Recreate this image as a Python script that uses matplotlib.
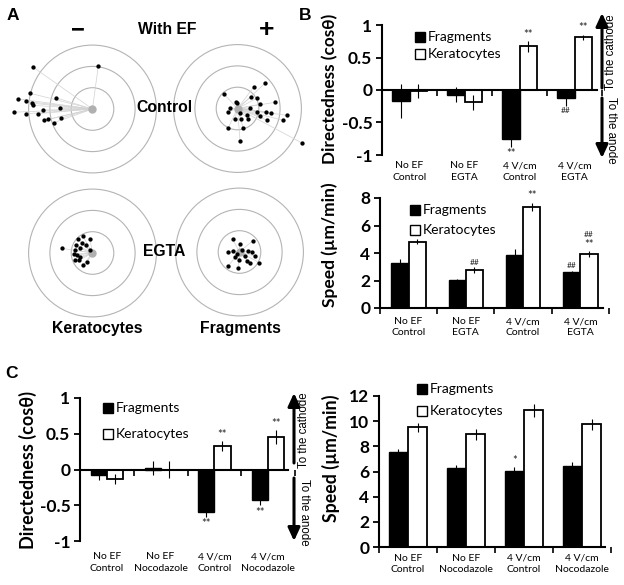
import matplotlib.pyplot as plt
from matplotlib.patches import Circle, Rectangle, FancyArrowPatch
import numpy as np

W, H = 624, 585

# ---- panel A: end points of tracks (units: inner ring radius = 1) ----
ctrl_ker_x = [-2.78, 0.27, -2.93, -3.51, -3.14, -2.85, -2.81, -1.73, -1.53, -2.34,
              -3.69, -3.12, -2.57, -2.26, -2.07, -1.49, -1.81]
ctrl_ker_y = [1.96, 2.02, 0.74, 0.48, 0.36, 0.27, 0.17, 0.53, 0.03, -0.05,
              -0.15, -0.22, -0.22, -0.53, -0.48, -0.44, -0.64]
ctrl_frag_x = [1.29, 0.77, -0.62, -0.07, 0.62, 0.90, 1.76, 1.06, -0.35, 0.59, -0.43,
               0.12, 0.90, 1.34, 1.57, 2.31, 0.46, 1.06, -0.12, 0.16, 0.51, 1.37,
               2.12, -0.43, 0.27, 0.12, 3.01, -0.04]
ctrl_frag_y = [1.18, 1.02, 0.67, 0.32, 0.53, 0.48, 0.29, 0.20, 0.01, 0.01, -0.15,
               -0.23, -0.15, -0.15, -0.23, -0.32, -0.31, -0.35, -0.49, -0.51, -0.51,
               -0.54, -0.55, -0.90, -0.93, -1.51, -1.61, 0.24]
egta_ker_x = [-1.45, -0.46, -0.67, -0.12, -0.77, -0.51, -0.31, -0.82, -0.59, -0.87,
              -0.59, -0.82, -0.62, -0.24, -0.43, -0.12, -0.71]
egta_ker_y = [0.22, 0.80, 0.64, 0.64, 0.38, 0.45, 0.38, 0.14, 0.22, -0.05,
              -0.17, -0.33, -0.33, -0.41, -0.56, 0.14, -0.09]
egta_frag_x = [-0.32, 0.02, 0.62, -0.53, -0.32, 0.10, 0.41, 0.57, -0.13, 0.26, 0.73,
               -0.01, 0.37, 0.93, -0.53, -0.06, 0.49, -0.21]
egta_frag_y = [0.60, 0.38, 0.53, 0.01, 0.06, 0.09, 0.06, 0.01, -0.09, -0.19, -0.19,
               -0.38, -0.42, -0.50, -0.66, -0.77, -0.53, -0.22]

# ---- panels B and C: bar data ----
groups_B = ['No EF\nControl', 'No EF\nEGTA', '4 V/cm\nControl', '4 V/cm\nEGTA']
groups_C = ['No EF\nControl', 'No EF\nNocodazole', '4 V/cm\nControl', '4 V/cm\nNocodazole']
series = ['Fragments', 'Keratocytes']

dirB_frag = [-0.17, -0.07, -0.76, -0.12]
dirB_frag_err = [0.26, 0.12, 0.11, 0.12]
dirB_ker = [-0.01, -0.19, 0.67, 0.81]
dirB_ker_err = [0.11, 0.12, 0.08, 0.04]
dirB_frag_sig = ['', '', '**', '##']
dirB_ker_sig = ['', '', '**', '**']

spdB_frag = [3.3, 2.04, 3.87, 2.6]
spdB_frag_err = [0.3, 0.1, 0.45, 0.12]
spdB_ker = [4.82, 2.76, 7.37, 3.9]
spdB_ker_err = [0.2, 0.2, 0.28, 0.22]
spdB_frag_sig = ['', '', '', '##']
spdB_ker_sig = ['', '##', '**', '##\n**']

dirC_frag = [-0.07, 0.02, -0.59, -0.42]
dirC_frag_err = [0.07, 0.1, 0.07, 0.08]
dirC_ker = [-0.13, 0.0, 0.33, 0.45]
dirC_ker_err = [0.07, 0.12, 0.07, 0.1]
dirC_frag_sig = ['', '', '**', '**']
dirC_ker_sig = ['', '', '**', '**']

spdC_frag = [7.55, 6.25, 6.05, 6.45]
spdC_frag_err = [0.2, 0.25, 0.3, 0.3]
spdC_ker = [9.5, 8.95, 10.85, 9.75]
spdC_ker_err = [0.35, 0.45, 0.5, 0.45]
spdC_frag_sig = ['', '', '*', '']
spdC_ker_sig = ['', '', '', '']

CHART_FONT = ['Lato', 'DejaVu Sans']
ARIAL = ['Liberation Sans', 'DejaVu Sans']

fig = plt.figure(figsize=(W / 100, H / 100), dpi=100)


def fx(x):
    return x / W


def fy(y):
    return 1 - y / H


def px_rect(x0, y0, x1, y1):
    return [fx(x0), fy(y1), (x1 - x0) / W, (y1 - y0) / H]


def ftext(x, y, s, **kw):
    fig.text(fx(x), fy(y), s, ha='center', va='center', **kw)


# ---------------- panel A ----------------
UNIT = 21.3  # px per ring


def track_plot(cx, cy, xs, ys):
    half = 4.2 * UNIT
    ax = fig.add_axes(px_rect(cx - half, cy - half, cx + half, cy + half))
    ax.set_xlim(-4.2, 4.2)
    ax.set_ylim(-4.2, 4.2)
    ax.axis('off')
    ax.patch.set_alpha(0)
    for r in (1, 2, 3):
        ax.add_patch(Circle((0, 0), r, fill=False, ec='#b4b4b4', lw=0.8))
    for x, y in zip(xs, ys):
        ax.plot([0, x], [0, y], color='#d2d2d2', lw=0.5, zorder=2)
    ax.plot(0, 0, 'o', color='#b0b0b0', ms=6, mew=0, zorder=2)
    ax.plot(xs, ys, 'o', color='black', ms=3.1, mew=0, zorder=3)


track_plot(92.5, 109, ctrl_ker_x, ctrl_ker_y)
track_plot(237.5, 108.5, ctrl_frag_x, ctrl_frag_y)
track_plot(92.5, 253, egta_ker_x, egta_ker_y)
track_plot(239.5, 252, egta_frag_x, egta_frag_y)

ftext(13, 15, 'A', family=ARIAL, weight='bold', size=12.5)
ftext(305, 15, 'B', family=ARIAL, weight='bold', size=12.5)
ftext(12, 373, 'C', family=ARIAL, weight='bold', size=12.5)
ftext(78, 30, '\u2212', family=ARIAL, weight='bold', size=17)
ftext(267, 30, '+', family=ARIAL, weight='bold', size=19)
ftext(167, 30, 'With EF', family=ARIAL, weight='bold', size=11.3)
ftext(164, 107, 'Control', family=ARIAL, weight='bold', size=11.3)
ftext(164, 251, 'EGTA', family=ARIAL, weight='bold', size=11.3)
ftext(97, 328, 'Keratocytes', family=ARIAL, weight='bold', size=11.3)
ftext(240, 328, 'Fragments', family=ARIAL, weight='bold', size=11.3)


# ---------------- bar panels ----------------
def bar_panel(rect, frag, frag_err, ker, ker_err, frag_sig, ker_sig, labels,
              ylim, yticks, yticklabels, width, label_pad, xend=3.5):
    ax = fig.add_axes(px_rect(*rect))
    x = np.arange(len(labels))
    ax.bar(x - width / 2, frag, width, color='black', ec='black', lw=1.0,
           label=series[0], zorder=2)
    ax.bar(x + width / 2, ker, width, color='white', ec='black', lw=1.3,
           label=series[1], zorder=2)
    ax.errorbar(x - width / 2, frag, yerr=frag_err, fmt='none', ecolor='black',
                elinewidth=0.8, capsize=0, zorder=3)
    ax.errorbar(x + width / 2, ker, yerr=ker_err, fmt='none', ecolor='black',
                elinewidth=0.8, capsize=0, zorder=3)
    for xs, vals, errs, sigs in ((x - width / 2, frag, frag_err, frag_sig),
                                 (x + width / 2, ker, ker_err, ker_sig)):
        for xi, v, e, s in zip(xs, vals, errs, sigs):
            if not s:
                continue
            marks = s.split('\n')
            if v >= 0:
                # stack upwards, last line closest to the bar
                off = 1
                for m in reversed(marks):
                    size = 6 if m.startswith('#') else 8
                    ax.annotate(m, (xi, v + e), xytext=(0, off),
                                textcoords='offset points', ha='center',
                                va='bottom', fontsize=size, family=CHART_FONT,
                                color='#222222')
                    off += 8.5
            else:
                off = -1
                for m in marks:
                    size = 6 if m.startswith('#') else 8
                    ax.annotate(m, (xi, v - e), xytext=(0, off),
                                textcoords='offset points', ha='center',
                                va='top', fontsize=size, family=CHART_FONT,
                                color='#222222')
                    off -= 8.5
    ax.set_xlim(-0.5, 3.5)
    ax.set_ylim(*ylim)
    ax.patch.set_alpha(0)
    for side in ('top', 'right'):
        ax.spines[side].set_visible(False)
    ax.spines['left'].set_linewidth(1.5)
    ax.spines['bottom'].set_linewidth(1.5)
    ax.spines['bottom'].set_position(('data', 0))
    ax.spines['bottom'].set_bounds(-0.5, xend)
    ax.set_xticks(np.arange(-0.5, 4, 1))
    ax.tick_params(axis='x', length=4, width=1.2, labelbottom=False)
    ax.set_yticks(yticks)
    ax.set_yticklabels(yticklabels, family=CHART_FONT, weight='bold', size=12.5)
    ax.tick_params(axis='y', length=4, width=1.3, pad=3)
    for xi, lab in zip(x, labels):
        ax.annotate(lab, (xi, 0), xycoords=('data', 'axes fraction'),
                    xytext=(0, -label_pad), textcoords='offset points',
                    ha='center', va='top', fontsize=7.5, family=CHART_FONT,
                    linespacing=1.35)
    return ax


def legend_at(x, y, dy, size=10):
    for i, name in enumerate(series):
        yy = y + i * dy
        fig.patches.append(Rectangle((fx(x), fy(yy + 5)), 10 / W, 10 / H,
                                     transform=fig.transFigure,
                                     fc='black' if i == 0 else 'white',
                                     ec='black', lw=1.0))
        fig.text(fx(x + 13), fy(yy), name, ha='left', va='center',
                 family=CHART_FONT, size=size)


def side_arrows(x, y_top, y_mid_hi, y_mid_lo, y_bot, tx, t_hi, t_lo):
    for a, b in ((y_mid_hi, y_top), (y_mid_lo, y_bot)):
        fig.patches.append(FancyArrowPatch((fx(x), fy(a)), (fx(x), fy(b)),
                                           transform=fig.transFigure,
                                           arrowstyle='-|>,head_width=0.3,head_length=0.65',
                                           mutation_scale=12, lw=2.2, color='black',
                                           shrinkA=0, shrinkB=0))
    fig.text(fx(tx), fy(t_hi), 'To the cathode', rotation=90, ha='center',
             va='center', family=ARIAL, size=8.3)
    fig.text(fx(tx), fy(t_lo), 'To the anode', rotation=-90, ha='center',
             va='center', family=ARIAL, size=8.3)


dir_ticks = [-1, -0.5, 0, 0.5, 1]
dir_labels = ['-1', '-0.5', '0', '0.5', '1']

# B top: directedness
bar_panel((382, 25, 602, 155), dirB_frag, dirB_frag_err, dirB_ker, dirB_ker_err,
          dirB_frag_sig, dirB_ker_sig, groups_B, (-1, 1), dir_ticks, dir_labels,
          0.32, 4.5, xend=3.4)
legend_at(415, 37, 17)
side_arrows(602, 13, 88, 98, 158, 611, 52, 130)
ftext(330, 89, 'Directedness (cos\u03b8)', family=CHART_FONT, weight='bold',
      size=12.3, rotation=90)

# B bottom: speed
bar_panel((380, 198, 609, 308), spdB_frag, spdB_frag_err, spdB_ker, spdB_ker_err,
          spdB_frag_sig, spdB_ker_sig, groups_B, (0, 8), [0, 2, 4, 6, 8],
          ['0', '2', '4', '6', '8'], 0.3, 6.5, xend=3.4)
legend_at(410, 210, 20)
ftext(330, 245, 'Speed (\u00b5m/min)', family=CHART_FONT, weight='bold',
      size=12.5, rotation=90)

# C left: directedness
bar_panel((80, 398, 295, 541), dirC_frag, dirC_frag_err, dirC_ker, dirC_ker_err,
          dirC_frag_sig, dirC_ker_sig, groups_C, (-1, 1), dir_ticks, dir_labels,
          0.3, 8, xend=3.37)
legend_at(103, 408, 26)
side_arrows(294, 393, 463, 478, 541, 304, 430, 512)
ftext(28, 470, 'Directedness (cos\u03b8)', family=CHART_FONT, weight='bold',
      size=13, rotation=90)

# C right: speed
bar_panel((379, 396, 611, 547), spdC_frag, spdC_frag_err, spdC_ker, spdC_ker_err,
          spdC_frag_sig, spdC_ker_sig, groups_C, (0, 12), [0, 2, 4, 6, 8, 10, 12],
          ['0', '2', '4', '6', '8', '10', '12'], 0.33, 5, xend=3.4)
legend_at(417, 389, 22)
ftext(331, 458, 'Speed (\u00b5m/min)', family=CHART_FONT, weight='bold',
      size=12.8, rotation=90)

fig.savefig('out.png', dpi=100)
